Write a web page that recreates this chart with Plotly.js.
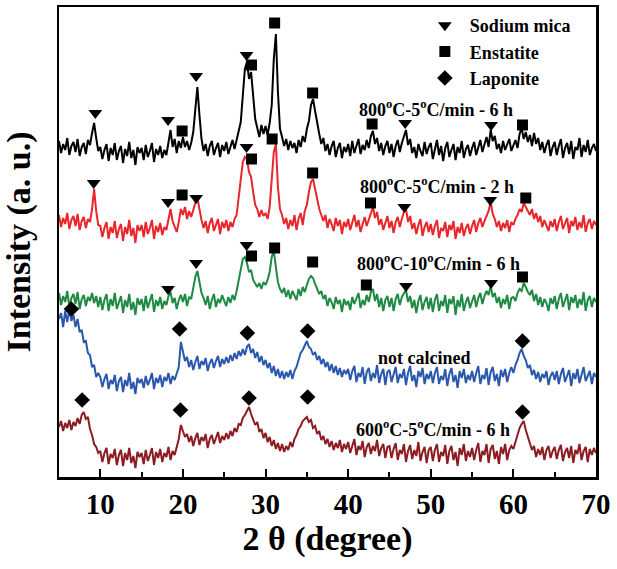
<!DOCTYPE html>
<html>
<head>
<meta charset="utf-8">
<script src="https://cdn.plot.ly/plotly-3.0.1.min.js"></script>
<style>
  body { margin: 0; background: #fff; }
  #graphDiv { width: 617px; height: 569px; }
</style>
</head>
<body>
<div id="graphDiv"></div>
<script>
  // 2 theta from 5 to 70 deg, step 0.25 (x0 / dx below)
  var startAngle = 5;
  var stepAngle = 0.25;

  // 800 C - 5 C/min - 6 h (black)
  var calc800_5_6h = [
    336, 324, 333, 327, 339, 322, 331, 335, 325, 338, 321, 330, 334, 323, 337, 332, 344, 354, 339, 326,
    330, 318, 327, 333, 316, 329, 322, 334, 317, 326, 331, 314, 328, 321, 335, 319, 327, 312, 330, 324,
    329, 317, 332, 320, 326, 334, 315, 328, 322, 331, 319, 327, 322, 334, 347, 330, 338, 324, 336, 329,
    340, 330, 336, 327, 334, 345, 368, 390, 362, 338, 326, 333, 321, 331, 336, 322, 329, 334, 320, 332,
    326, 335, 323, 331, 337, 328, 339, 346, 355, 385, 408, 415, 398, 405, 380, 358, 349, 340, 352, 343,
    351, 342, 354, 372, 418, 443, 385, 348, 340, 331, 338, 327, 336, 329, 334, 324, 337, 330, 341, 335,
    348, 356, 372, 378, 366, 352, 343, 333, 339, 326, 333, 322, 331, 336, 320, 329, 334, 319, 330, 325,
    333, 321, 336, 324, 330, 338, 323, 332, 327, 337, 329, 341, 346, 333, 339, 326, 334, 322, 331, 336,
    324, 333, 320, 331, 337, 325, 334, 341, 347, 332, 338, 324, 330, 319, 333, 326, 321, 335, 323, 330,
    334, 318, 328, 337, 322, 331, 316, 329, 335, 320, 327, 333, 317, 330, 324, 336, 319, 328, 332, 321,
    329, 335, 322, 331, 337, 325, 334, 340, 330, 347, 336, 341, 328, 333, 324, 336, 327, 332, 338, 326,
    331, 337, 329, 343, 349, 338, 345, 335, 342, 331, 344, 333, 339, 327, 335, 324, 332, 337, 321, 330,
    335, 322, 331, 338, 319, 329, 334, 323, 336, 318, 330, 327, 339, 320, 332, 325, 337, 322, 329, 333,
    326
  ];

  // 800 C - 5 C/min - 2 h (red)
  var calc800_5_2h = [
    262, 250, 259, 253, 264, 248, 257, 261, 251, 263, 247, 256, 260, 249, 258, 255, 268, 288, 266, 252,
    251, 240, 249, 255, 238, 250, 244, 256, 239, 248, 253, 236, 250, 243, 257, 241, 249, 234, 252, 246,
    252, 240, 255, 243, 249, 257, 238, 251, 245, 254, 242, 250, 247, 258, 268, 256, 250, 245, 255, 268,
    262, 270, 258, 266, 260, 268, 274, 279, 266, 257, 249, 256, 244, 254, 259, 246, 252, 258, 243, 255,
    249, 257, 246, 255, 250, 258, 262, 280, 300, 315, 320, 318, 305, 300, 285, 272, 268, 260, 267, 261,
    264, 258, 270, 295, 325, 333, 290, 268, 262, 253, 259, 248, 257, 251, 262, 247, 258, 264, 252, 266,
    272, 285, 295, 298, 288, 276, 268, 262, 256, 262, 249, 258, 253, 246, 259, 251, 257, 243, 255, 250,
    258, 247, 256, 262, 250, 257, 245, 253, 260, 251, 258, 264, 270, 259, 265, 252, 258, 247, 255, 261,
    249, 256, 244, 255, 260, 250, 258, 265, 268, 255, 261, 248, 254, 243, 252, 258, 241, 250, 255, 245,
    253, 242, 251, 257, 239, 249, 246, 255, 240, 252, 247, 256, 238, 250, 244, 254, 241, 249, 253, 243,
    251, 257, 245, 254, 259, 250, 256, 262, 266, 275, 263, 258, 250, 256, 246, 254, 249, 257, 245, 255,
    252, 258, 262, 268, 265, 274, 270, 266, 262, 268, 258, 264, 255, 261, 250, 257, 252, 246, 256, 250,
    258, 246, 255, 261, 248, 253, 259, 244, 256, 251, 260, 247, 255, 249, 262, 245, 254, 258, 248, 256,
    252
  ];

  // 800 C - 10 C/min - 6 h (green)
  var calc800_10_6h = [
    184, 172, 181, 175, 186, 170, 179, 183, 173, 185, 168, 178, 182, 171, 180, 176, 184, 174, 181, 170,
    180, 167, 177, 183, 166, 178, 171, 184, 168, 176, 181, 164, 177, 170, 183, 167, 175, 162, 179, 172,
    178, 166, 181, 169, 175, 183, 165, 177, 171, 180, 168, 176, 172, 181, 185, 174, 179, 168, 177, 182,
    175, 183, 171, 180, 178, 190, 200, 206, 193, 184, 179, 172, 181, 168, 177, 183, 170, 178, 174, 182,
    176, 171, 180, 174, 182, 177, 186, 198, 210, 218, 220, 214, 205, 207, 197, 193, 190, 194, 188, 195,
    192, 197, 205, 220, 226, 210, 195, 188, 184, 189, 180, 187, 178, 186, 182, 177, 188, 181, 190, 185,
    192, 198, 201, 199, 193, 188, 183, 186, 178, 182, 171, 179, 175, 168, 180, 173, 177, 165, 178, 172,
    176, 167, 180, 173, 178, 184, 169, 177, 172, 182, 175, 185, 188, 176, 183, 170, 179, 166, 177, 181,
    170, 179, 166, 178, 183, 172, 180, 184, 187, 175, 181, 169, 177, 164, 176, 182, 167, 175, 180, 168,
    179, 165, 177, 183, 166, 176, 171, 182, 164, 178, 173, 181, 162, 177, 170, 183, 166, 175, 180, 169,
    176, 182, 170, 179, 184, 173, 181, 186, 182, 191, 180, 184, 174, 180, 169, 178, 173, 182, 168, 179,
    180, 176, 184, 188, 186, 194, 190, 185, 182, 187, 176, 183, 172, 180, 170, 178, 174, 166, 179, 173,
    181, 168, 178, 184, 170, 176, 183, 167, 180, 174, 182, 169, 178, 172, 185, 166, 177, 181, 170, 179,
    175
  ];

  // not calcined (blue)
  var notCalcined = [
    158, 164, 150, 166, 155, 168, 156, 162, 150, 158, 145, 147, 135, 136, 124, 122, 110, 112, 100, 104,
    100, 90, 98, 103, 88, 97, 93, 102, 86, 96, 100, 85, 97, 91, 104, 88, 95, 83, 99, 94,
    98, 89, 101, 92, 97, 104, 88, 99, 94, 102, 90, 100, 96, 104, 93, 101, 97, 105, 110, 135,
    124, 116, 120, 110, 117, 107, 115, 121, 108, 116, 112, 119, 106, 114, 118, 109, 116, 121, 110, 118,
    113, 120, 114, 122, 116, 124, 118, 126, 121, 128, 122, 130, 133, 124, 128, 119, 125, 115, 121, 112,
    117, 109, 114, 104, 111, 101, 108, 99, 106, 98, 105, 100, 107, 98, 106, 110, 117, 124, 127, 132,
    136, 130, 128, 122, 125, 117, 121, 113, 118, 110, 115, 106, 113, 104, 111, 102, 109, 100, 107, 103,
    108, 97, 106, 111, 95, 104, 100, 110, 93, 105, 109, 96, 104, 99, 112, 94, 103, 108, 92, 105,
    107, 95, 104, 110, 94, 103, 99, 108, 92, 104, 111, 96, 102, 90, 106, 100, 109, 93, 103, 98,
    106, 94, 104, 110, 93, 101, 97, 108, 91, 103, 109, 95, 102, 89, 106, 99, 108, 94, 102, 97,
    106, 95, 104, 111, 93, 102, 98, 109, 92, 105, 110, 96, 103, 91, 107, 100, 108, 95, 104, 110,
    104, 112, 117, 124, 128, 121, 117, 109, 112, 102, 107, 98, 105, 95, 103, 99, 106, 92, 101, 105,
    97, 106, 93, 103, 109, 95, 101, 107, 91, 104, 98, 108, 94, 103, 110, 96, 102, 106, 93, 104,
    100
  ];

  // 600 C - 5 C/min - 6 h (dark red)
  var calc600_5_6h = [
    50, 56, 46, 54, 49, 57, 47, 55, 51, 59, 53, 62, 65, 58, 60, 48, 42, 33, 30, 24,
    26, 15, 24, 29, 13, 23, 19, 28, 12, 22, 27, 11, 24, 17, 29, 14, 21, 9, 25, 20,
    24, 13, 27, 16, 22, 29, 12, 25, 19, 28, 15, 24, 20, 30, 17, 26, 22, 29, 38, 52,
    46, 40, 43, 35, 41, 31, 39, 44, 32, 40, 36, 43, 29, 38, 42, 33, 39, 45, 34, 41,
    37, 44, 38, 46, 41, 49, 45, 53, 52, 59, 62, 66, 70, 63, 58, 52, 55, 45, 48, 39,
    44, 35, 40, 31, 37, 28, 34, 26, 33, 25, 31, 27, 35, 30, 38, 42, 48, 51, 56, 58,
    60, 55, 57, 49, 51, 43, 46, 37, 41, 33, 38, 30, 36, 27, 34, 29, 37, 25, 33, 28,
    35, 24, 32, 38, 22, 31, 27, 36, 20, 30, 34, 23, 31, 26, 37, 21, 29, 33, 19, 30,
    31, 19, 28, 34, 17, 27, 23, 33, 15, 26, 32, 18, 27, 21, 35, 16, 25, 30, 14, 27,
    30, 16, 27, 33, 15, 25, 21, 32, 13, 26, 31, 17, 25, 11, 29, 22, 33, 16, 26, 20,
    29, 17, 27, 34, 15, 26, 22, 33, 14, 28, 32, 18, 26, 13, 30, 23, 33, 17, 27, 31,
    28, 35, 41, 49, 53, 56, 47, 41, 33, 27, 31, 20, 28, 22, 30, 17, 27, 31, 19, 26,
    30, 18, 27, 32, 16, 25, 29, 19, 31, 14, 27, 23, 33, 17, 26, 30, 15, 28, 22, 29,
    24
  ];

  // peak markers (angle, label height)
  var micaX = [9.4, 18.2, 21.6, 27.7, 46.9, 57.3, 9.2, 18.2, 21.6, 27.7, 46.8, 57.2, 18.2, 21.6, 27.7, 47.0, 57.3];
  var micaY = [364, 357, 401, 422, 354, 352, 294, 275, 279, 330, 270, 277, 188, 214, 232, 191, 194];
  var enstatiteX = [19.9, 28.3, 31.1, 35.7, 42.9, 61.1, 19.9, 28.3, 30.8, 35.7, 42.7, 61.5, 28.3, 31.1, 35.7, 42.2, 61.1];
  var enstatiteY = [346, 412, 454, 384, 353, 352, 282, 318, 338, 304, 274, 279, 221, 229, 215, 192, 200];
  var laponiteX = [6.5, 19.6, 27.8, 35.1, 61.1, 7.8, 19.7, 28.0, 35.1, 61.1];
  var laponiteY = [168, 148, 144, 146, 136, 77, 67, 79, 80, 65];

  var font = 'Liberation Serif, Times New Roman, serif';

  function pattern(y, color) {
    return {
      y: y, x0: startAngle, dx: stepAngle,
      type: 'scatter', mode: 'lines',
      line: {color: color, width: 2},
      showlegend: false, hoverinfo: 'skip'
    };
  }

  function peaks(name, x, y, symbol, size) {
    return {
      x: x, y: y, name: name,
      type: 'scatter', mode: 'markers',
      marker: {symbol: symbol, size: size, color: 'black'},
      hoverinfo: 'skip'
    };
  }

  var data = [
    pattern(calc800_5_6h, '#000000'),
    pattern(calc800_5_2h, '#e8262b'),
    pattern(calc800_10_6h, '#1f8a43'),
    pattern(notCalcined, '#2b58ad'),
    pattern(calc600_5_6h, '#8c1c22'),
    peaks('Sodium mica', micaX, micaY, 'triangle-down', 12),
    peaks('Enstatite', enstatiteX, enstatiteY, 'square', 11),
    peaks('Laponite', laponiteX, laponiteY, 'diamond', 12)
  ];

  function label(text, x, y) {
    return {
      text: text, x: x, y: y, xref: 'x', yref: 'y',
      showarrow: false,
      font: {family: font, size: 18, color: 'black', weight: 700}
    };
  }

  var layout = {
    width: 617, height: 569,
    margin: {l: 59, r: 21, t: 7, b: 92},
    paper_bgcolor: 'white', plot_bgcolor: 'white',
    hovermode: false,
    xaxis: {
      range: [5, 70],
      tickvals: [10, 20, 30, 40, 50, 60, 70],
      ticks: 'inside', ticklen: 8, tickwidth: 2, tickcolor: 'black',
      minor: {dtick: 5, tick0: 0, ticks: 'inside', ticklen: 5, tickwidth: 2, tickcolor: 'black'},
      showgrid: false, zeroline: false,
      showline: true, mirror: true, linewidth: 2.5, linecolor: 'black',
      tickfont: {family: font, size: 29, color: 'black', weight: 700},
      title: {text: '2 θ (degree)', standoff: 6,
              font: {family: font, size: 34, color: 'black', weight: 700}},
      automargin: false
    },
    yaxis: {
      range: [0, 470],
      showticklabels: false, ticks: '',
      showgrid: false, zeroline: false,
      showline: true, mirror: true, linewidth: 2.5, linecolor: 'black',
      title: {text: 'Intensity (a. u.)', standoff: 18,
              font: {family: font, size: 34, color: 'black', weight: 700}},
      automargin: false
    },
    legend: {
      x: 0.672, y: 1, xanchor: 'left', yanchor: 'top',
      itemwidth: 40,
      bgcolor: 'rgba(0,0,0,0)', tracegroupgap: 0,
      font: {family: font, size: 18, color: 'black', weight: 700}
    },
    annotations: [
      label('800<sup>o</sup>C-5<sup>o</sup>C/min - 6 h', 50.6, 369),
      label('800<sup>o</sup>C-5<sup>o</sup>C/min - 2 h', 50.7, 292),
      label('800<sup>o</sup>C-10<sup>o</sup>C/min - 6 h', 50.9, 215),
      label('not calcined', 49.2, 119),
      label('600<sup>o</sup>C-5<sup>o</sup>C/min - 6 h', 50.3, 49)
    ]
  };

  Plotly.newPlot('graphDiv', data, layout, {displayModeBar: false, staticPlot: true});
</script>
</body>
</html>
